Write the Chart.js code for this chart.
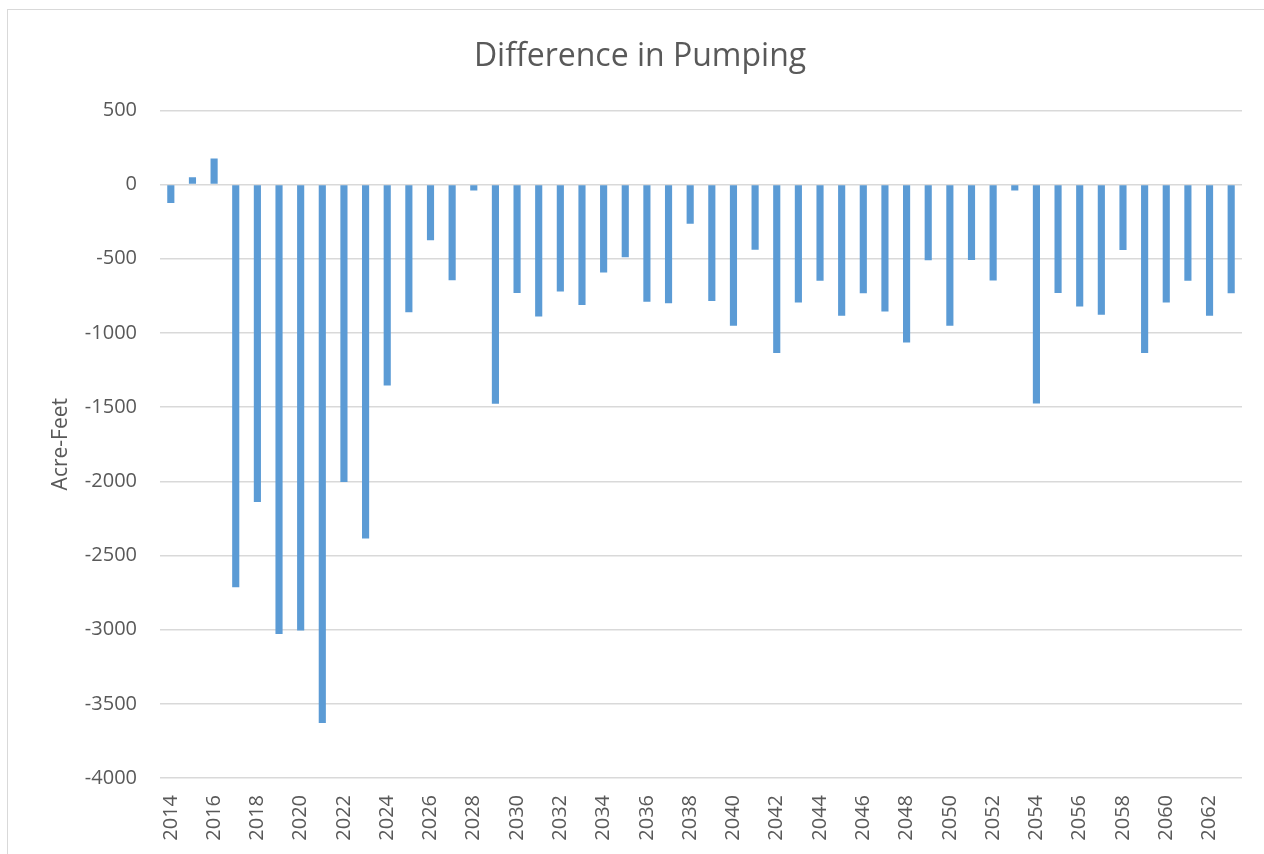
<!DOCTYPE html>
<html>
<head>
<meta charset="utf-8">
<script src="https://cdn.jsdelivr.net/npm/chart.js@4.4.1/dist/chart.umd.min.js"></script>
<style>
  html, body { margin: 0; padding: 0; background: #fff; overflow: hidden; }
  #frame { position: absolute; left: 7px; top: 9px; width: 1300px; height: 900px; border: 1px solid #d9d9d9; box-sizing: border-box; }
  #wrap { position: absolute; left: 0; top: 0; width: 1280px; height: 854px; }
</style>
</head>
<body>
<div id="frame"></div>
<div id="wrap"><canvas id="chart"></canvas></div>
<script>
// Years 2014..2063
const years = [
  '2014', '2015', '2016', '2017', '2018', '2019', '2020', '2021', '2022', '2023',
  '2024', '2025', '2026', '2027', '2028', '2029', '2030', '2031', '2032', '2033',
  '2034', '2035', '2036', '2037', '2038', '2039', '2040', '2041', '2042', '2043',
  '2044', '2045', '2046', '2047', '2048', '2049', '2050', '2051', '2052', '2053',
  '2054', '2055', '2056', '2057', '2058', '2059', '2060', '2061', '2062', '2063'
];

// Difference in pumping, acre-feet
const pumpingDiff = [
  -125, 50, 175, -2715, -2140, -3030, -3005, -3630, -2005, -2385,
  -1355, -860, -375, -645, -40, -1478, -730, -889, -721, -811,
  -593, -490, -790, -800, -264, -784, -952, -439, -1136, -795,
  -648, -885, -732, -855, -1064, -510, -952, -508, -647, -40,
  -1476, -730, -822, -878, -441, -1136, -795, -648, -885, -732
];

const yMin = -4000;
const yMax = 500;
const yStep = 500;

const textColor = '#595959';
const gridColor = '#d9d9d9';
const barColor = '#5b9bd5';

Chart.defaults.font.family = '"Open Sans", sans-serif';
Chart.defaults.color = textColor;

new Chart(document.getElementById('chart'), {
  type: 'bar',
  data: {
    labels: years,
    datasets: [{
      data: pumpingDiff,
      backgroundColor: barColor,
      borderWidth: 0,
      barPercentage: 0.33,
      categoryPercentage: 1.0,
    }]
  },
  options: {
    responsive: true,
    maintainAspectRatio: false,
    animation: false,
    layout: { padding: 0 },
    plugins: {
      legend: { display: false },
      tooltip: { enabled: false },
      title: {
        display: true,
        text: 'Difference in Pumping',
        color: textColor,
        font: { size: 32, weight: 'normal' },
        padding: { top: 38, bottom: 34 }
      }
    },
    scales: {
      x: {
        grid: { display: false, drawTicks: false },
        border: { display: false },
        ticks: {
          autoSkip: false,
          maxRotation: 90,
          minRotation: 90,
          padding: 17,
          font: { size: 20 },
          color: textColor,
          callback: function (value, index) {
            return index % 2 === 0 ? this.getLabelForValue(value) : '';
          }
        },
        afterFit: scale => {
          scale.height = 76;
          scale.paddingLeft = 0;
          scale.paddingRight = 0;
        }
      },
      y: {
        min: yMin,
        max: yMax,
        grid: { color: gridColor, lineWidth: 1.5, drawTicks: false },
        border: { display: false },
        ticks: {
          stepSize: yStep,
          padding: 23,
          font: { size: 20 },
          color: textColor,
          callback: v => String(v)
        },
        title: {
          display: true,
          text: 'Acre-Feet',
          color: textColor,
          font: { size: 21, weight: 'normal' },
          padding: { top: 48, bottom: 0 }
        },
        afterFit: scale => { scale.width = 160; }
      },
      // empty right-hand strip so the title centres on the whole chart box
      yRight: {
        position: 'right',
        grid: { display: false, drawTicks: false },
        border: { display: false },
        ticks: { display: false },
        afterFit: scale => { scale.width = 38; }
      }
    }
  }
});
</script>
</body>
</html>
